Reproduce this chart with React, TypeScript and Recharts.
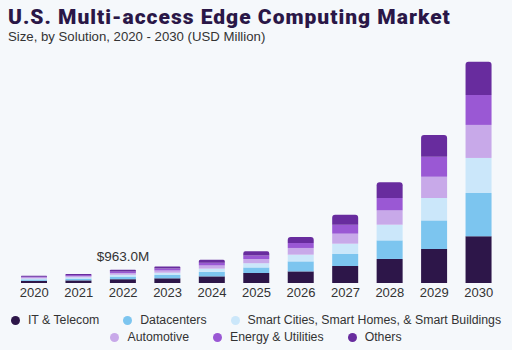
import { BarChart, Bar, XAxis, YAxis, LabelList } from 'recharts';

const years = ['2020', '2021', '2022', '2023', '2024', '2025', '2026', '2027', '2028', '2029', '2030'];
const itTelecom = [155, 190, 275, 340, 480, 725, 840, 1230, 1740, 2460, 3375];
const datacenters = [105, 130, 190, 240, 330, 400, 725, 870, 1345, 2070, 3140];
const smartCities = [70, 88, 130, 165, 230, 305, 485, 745, 1135, 1620, 2535];
const automotive = [70, 86, 130, 160, 230, 305, 485, 725, 1035, 1540, 2390];
const energy = [60, 74, 113, 140, 200, 255, 360, 650, 900, 1450, 2170];
const others = [68, 84, 125, 155, 220, 300, 435, 725, 1130, 1570, 2410];
const topLabels = ['', '', '$963.0M', '', '', '', '', '', '', '', ''];

const series = [
  { key: 'it', name: 'IT & Telecom', color: '#2d1649' },
  { key: 'dc', name: 'Datacenters', color: '#7cc5ef' },
  { key: 'smart', name: 'Smart Cities, Smart Homes, & Smart Buildings', color: '#cbe7fa' },
  { key: 'auto', name: 'Automotive', color: '#c8a9e9' },
  { key: 'energy', name: 'Energy & Utilities', color: '#9a58d4' },
  { key: 'others', name: 'Others', color: '#682c9e' },
];

const data = years.map((year, i) => ({
  year,
  it: itTelecom[i],
  dc: datacenters[i],
  smart: smartCities[i],
  auto: automotive[i],
  energy: energy[i],
  others: others[i],
  label: topLabels[i],
}));

const font = '"Liberation Sans", Arial, sans-serif';

const renderTopLabel = (props: any) => {
  const { x, y, width, value } = props;
  if (!value) return null;
  return (
    <text x={x + width / 2} y={y - 9} textAnchor="middle" fontSize={13.5} fill="#333" fontFamily={font}>
      {value}
    </text>
  );
};

export default function App() {
  return (
    <div
      style={{
        position: 'absolute',
        left: 0,
        top: 0,
        width: 512,
        height: 350,
        background: '#f5f8fb',
        fontFamily: font,
        overflow: 'hidden',
      }}
    >
      <div
        style={{
          position: 'absolute',
          left: 8,
          top: 5,
          fontFamily: 'Roboto, sans-serif',
          fontWeight: 900,
          fontSize: 21,
          letterSpacing: 1,
          color: '#2a1747',
          whiteSpace: 'nowrap',
        }}
      >
        U.S. Multi-access Edge Computing Market
      </div>
      <div style={{ position: 'absolute', left: 8, top: 29, fontSize: 13.2, color: '#333', whiteSpace: 'nowrap' }}>
        Size, by Solution, 2020 - 2030 (USD Million)
      </div>
      <div style={{ position: 'absolute', left: 0, top: 0 }}>
        <BarChart width={512} height={300} data={data} margin={{ top: 55, right: 11, bottom: 1, left: 12 }}>
          <XAxis
            dataKey="year"
            axisLine={false}
            tickLine={false}
            tickSize={0}
            tickMargin={5}
            height={16}
            interval={0}
            tick={{ fill: '#333', fontSize: 13, fontFamily: font }}
          />
          <YAxis hide domain={[0, 16500]} />
          {series.map((s) => (
            <Bar
              key={s.key}
              dataKey={s.key}
              name={s.name}
              stackId="a"
              fill={s.color}
              barSize={26}
              radius={s.key === 'others' ? [3, 3, 0, 0] : 0}
              isAnimationActive={false}
            >
              {s.key === 'others' && <LabelList dataKey="label" content={renderTopLabel} />}
            </Bar>
          ))}
        </BarChart>
      </div>
      <div
        style={{
          position: 'absolute',
          left: 0,
          top: 312,
          width: 512,
          display: 'flex',
          flexWrap: 'wrap',
          justifyContent: 'center',
          rowGap: 1,
          fontSize: 12.3,
          color: '#333',
        }}
      >
        {series.map((s, i) => (
          <div
            key={s.key}
            style={{
              display: 'flex',
              alignItems: 'center',
              marginLeft: i === 0 || i === 3 ? 0 : 12,
              marginRight: i === 2 || i === 5 ? 0 : 12,
              height: 16,
              whiteSpace: 'nowrap',
            }}
          >
            <span
              style={{
                display: 'inline-block',
                width: 9,
                height: 9,
                borderRadius: '50%',
                background: s.color,
                marginRight: 8,
              }}
            />
            {s.name}
          </div>
        ))}
      </div>
    </div>
  );
}
